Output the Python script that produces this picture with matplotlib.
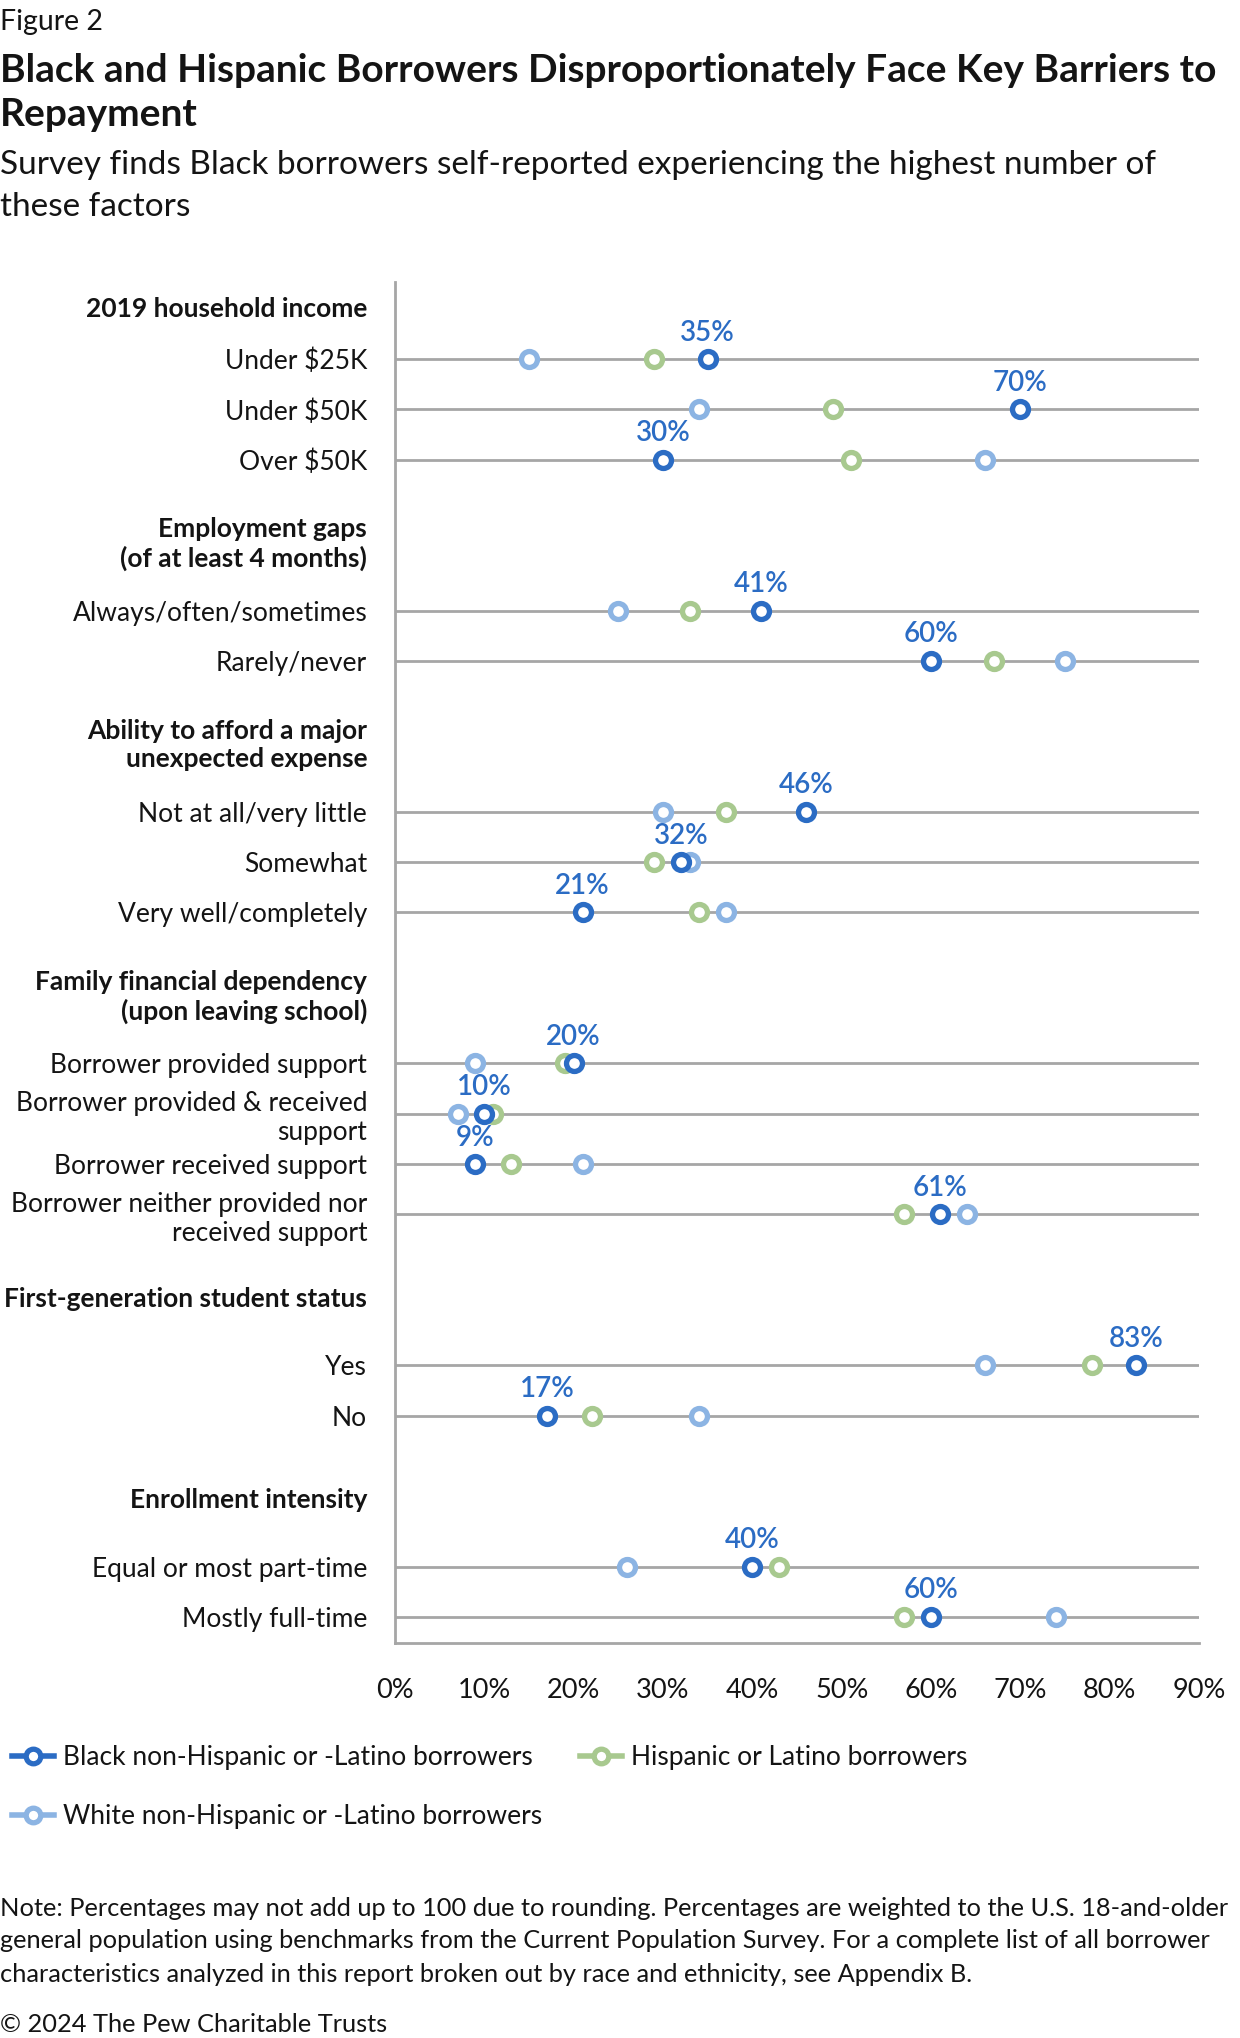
import matplotlib
matplotlib.use("Agg")
import matplotlib.pyplot as plt
from matplotlib.lines import Line2D

plt.rcParams['font.family'] = ['Lato', 'DejaVu Sans']

# ---- data ----
headers = ["2019 household income",
           "Employment gaps\n(of at least 4 months)",
           "Ability to afford a major\nunexpected expense",
           "Family financial dependency\n(upon leaving school)",
           "First-generation student status",
           "Enrollment intensity"]

categories = ["Under $25K", "Under $50K", "Over $50K",
              "Always/often/sometimes", "Rarely/never",
              "Not at all/very little", "Somewhat", "Very well/completely",
              "Borrower provided support", "Borrower provided & received\nsupport",
              "Borrower received support", "Borrower neither provided nor\nreceived support",
              "Yes", "No",
              "Equal or most part-time", "Mostly full-time"]
group = [0, 0, 0, 1, 1, 2, 2, 2, 3, 3, 3, 3, 4, 4, 5, 5]

black = [35, 70, 30, 41, 60, 46, 32, 21, 20, 10, 9, 61, 83, 17, 40, 60]
hispanic = [29, 49, 51, 33, 67, 37, 29, 34, 19, 11, 13, 57, 78, 22, 43, 57]
white = [15, 34, 66, 25, 75, 30, 33, 37, 9, 7, 21, 64, 66, 34, 26, 74]

series_names = ["Black non-Hispanic or -Latino borrowers",
                "Hispanic or Latino borrowers",
                "White non-Hispanic or -Latino borrowers"]
xticks = [0, 10, 20, 30, 40, 50, 60, 70, 80, 90]

# ---- style ----
DARK = '#2b6cc4'
GREEN = '#a8c98f'
LIGHT = '#8cb4e3'
GRID = '#a6a6a6'
TXT = '#141414'
W, H = 1240, 2038


def fy(px):
    return 1 - px / H


fig = plt.figure(figsize=(W / 100, H / 100), dpi=100)
ax = fig.add_axes([395 / W, 1 - 1643 / H, 804 / W, (1643 - 282) / H])

ypos = [i + 2 * g for i, g in enumerate(group)]

ax.set_xlim(0, 90)
ax.set_ylim(25.52, -1.53)

for vals, col, z in [(white, LIGHT, 3), (hispanic, GREEN, 4), (black, DARK, 5)]:
    ax.plot(vals, ypos, 'o', ls='none', mfc='white', mec=col,
            ms=11.5, mew=3.8, zorder=z, clip_on=False)

for v, y in zip(black, ypos):
    ax.annotate(f"{v}%", (v, y), xytext=(0, 19), textcoords='offset points',
                ha='center', va='center', color=DARK, fontsize=20,
                fontweight='semibold', zorder=6)

ax.set_yticks(ypos)
ax.set_yticklabels(categories, fontsize=19, color=TXT)
for lbl in ax.get_yticklabels():
    lbl.set_linespacing(1.2)
ax.tick_params(axis='y', length=0, pad=20)
ax.yaxis.grid(True, color=GRID, lw=2.0)
ax.set_axisbelow(True)

ax.set_xticks(xticks)
ax.set_xticklabels([f"{t}%" for t in xticks], fontsize=19.5, color=TXT)
ax.tick_params(axis='x', length=0, pad=25)

for s in ['top', 'right']:
    ax.spines[s].set_visible(False)
for s in ['left', 'bottom']:
    ax.spines[s].set_color(GRID)
    ax.spines[s].set_linewidth(2.0)

# group headers
for g, text in enumerate(headers):
    first = min(y for y, gg in zip(ypos, group) if gg == g)
    hy = first - (1.0 if g == 0 else 1.32)
    ax.annotate(text, (0, hy), xycoords=('axes fraction', 'data'),
                xytext=(-20, 0), textcoords='offset points',
                ha='right', va='center', fontsize=19, fontweight='bold',
                color=TXT, linespacing=1.2, annotation_clip=False)

# titles
fig.text(0, fy(22), "Figure 2", fontsize=20.5, color=TXT, va='center')
fig.text(0, fy(71), "Black and Hispanic Borrowers Disproportionately Face Key Barriers to",
         fontsize=28, fontweight='bold', color=TXT, va='center')
fig.text(0, fy(115), "Repayment", fontsize=28, fontweight='bold', color=TXT, va='center')
fig.text(0, fy(165), "Survey finds Black borrowers self-reported experiencing the highest number of",
         fontsize=24, color=TXT, va='center')
fig.text(0, fy(207), "these factors", fontsize=24, color=TXT, va='center')

# legend
handles = [Line2D([], [], color=c, lw=4, marker='o', ms=10.5, mfc='white', mec=c, mew=3.8)
           for c in (DARK, GREEN, LIGHT)]
order = [0, 2, 1]
fig.legend([handles[i] for i in order], [series_names[i] for i in order],
           ncol=2, loc='center left', bbox_to_anchor=(12 / W, fy(1787)),
           frameon=False, fontsize=19.0, handlelength=1.6, handletextpad=0.35,
           columnspacing=1.4, labelspacing=1.3, borderaxespad=0, borderpad=0,
           labelcolor=TXT)

note = ["Note: Percentages may not add up to 100 due to rounding. Percentages are weighted to the U.S. 18-and-older",
        "general population using benchmarks from the Current Population Survey. For a complete list of all borrower",
        "characteristics analyzed in this report broken out by race and ethnicity, see Appendix B."]
for i, line in enumerate(note):
    fig.text(0, fy(1908 + 33 * i), line, fontsize=18.3, color=TXT, va='center')
fig.text(0, fy(2025), "© 2024 The Pew Charitable Trusts", fontsize=18.3, color=TXT, va='center')

fig.savefig("out.png", dpi=100)
